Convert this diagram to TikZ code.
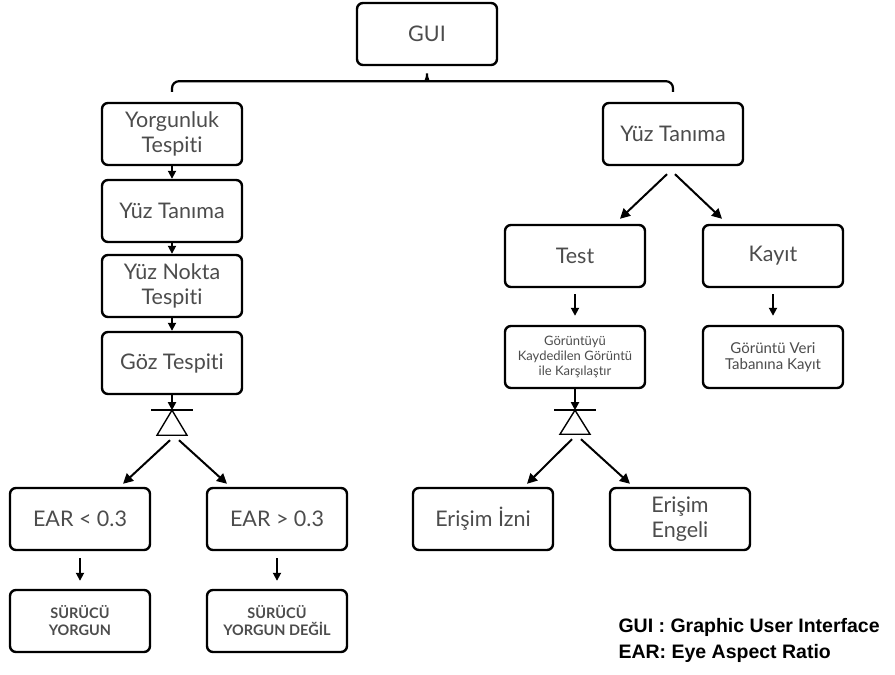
\documentclass[tikz,border=0pt]{standalone}
\usepackage{fontspec}
\setmainfont{Lato}[Ligatures=NoCommon]
\newfontfamily\legendfont{Liberation Sans}
\usepackage{tikz}
\usetikzlibrary{arrows.meta, calc}
\definecolor{boxtext}{rgb}{.3,.3,.3}
\tikzset{
    box/.style={draw, line width=2.4pt, rounded corners=6pt,
        minimum width=140pt, minimum height=62pt, align=center,
        text=boxtext, font={\fontsize{21.5}{25}\selectfont}},
    smallbox/.style={box, font={\fontsize{13}{15}\selectfont}},
    capsbox/.style={box, font={\fontsize{14.5}{17}\selectfont\bfseries}},
    arr/.style={line width=1.8pt, -{Triangle[length=8pt,width=8pt]}},
    bigarr/.style={line width=2pt, -{Triangle[length=10pt,width=10pt]}},
    brace/.style={line width=2.2pt, rounded corners=7pt},
    }

\begin{document}
\begin{tikzpicture}
    [x=1pt, y=-1pt]
    \useasboundingbox (0,0) rectangle (895,675);
    \node[box] (gui) at (427,34) {GUI};
    % left branch
    \node[box] (yt) at (172,134) {Yorgunluk\\Tespiti};
    \node[box] (yf) at (172,211) {Yüz Tanıma};
    \node[box] (yn) at (172,286) {Yüz Nokta\\Tespiti};
    \node[box] (gz) at (172,363) {Göz Tespiti};
    \node[box] (ear1) at (80,519) {EAR < 0.3};
    \node[box] (ear2) at (277,519) {EAR > 0.3};
    \node[capsbox] (sr1) at (80,621) {SÜRÜCÜ\\YORGUN};
    \node[capsbox] (sr2) at (277,621) {SÜRÜCÜ\\YORGUN DEĞİL};
    % right branch
    \node[box] (yr) at (673,134) {Yüz Tanıma};
    \node[box] (test) at (575,256) {Test};
    \node[box] (kayit) at (773,256) {Kayıt};
    \node[smallbox] (karsi) at (575,357) {Görüntüyü\\Kaydedilen Görüntü\\ile Karşılaştır};
    \node[box, font={\fontsize{15}{16}\selectfont}] (veri) at (773,357)
        {Görüntü Veri\\Tabanına Kayıt};
    \node[box] (izin) at (483,519) {Erişim İzni};
    \node[box] (engel) at (680,519) {Erişim\\Engeli};
    % brace
    \coordinate (tip) at ([yshift=-3pt]gui.south);
    \coordinate (bl) at ([yshift=10pt]yt.north);
    \coordinate (br) at ([yshift=10pt]yr.north);
    \draw[brace] (bl) |- ($(tip)+(-8,12)$)
        .. controls ($(tip)+(-2,12)$) and ($(tip)+(0,8)$) .. (tip)
        .. controls ($(tip)+(0,8)$) and ($(tip)+(2,12)$) .. ($(tip)+(8,12)$)
        -| (br);
    % left column
    \draw[arr] (yt.south) -- (yf.north);
    \draw[arr] (yf.south) -- (yn.north);
    \draw[arr] (yn.south) -- (gz.north);
    \coordinate (sp1) at ([yshift=-15pt]gz.south);
    \draw[arr] (gz.south) -- (sp1);
    \draw[line width=2pt] ([xshift=-21pt]sp1) -- ([xshift=21pt]sp1);
    \draw[line width=1.4pt] (sp1) -- ++(-15,25) -- ++(30,0) -- cycle;
    \draw[bigarr] ([shift={(-2,30)}]sp1) -- ([xshift=43pt,yshift=3pt]ear1.north);
    \draw[bigarr] ([shift={(7,30)}]sp1) -- ([xshift=-50pt,yshift=3pt]ear2.north);
    \draw[arr] ([yshift=-7pt]ear1.south) -- ([yshift=8pt]sr1.north);
    \draw[arr] ([yshift=-7pt]ear2.south) -- ([yshift=8pt]sr2.north);
    % right column
    \draw[bigarr] ([shift={(-6,8)}]yr.south) -- ([xshift=45pt,yshift=5pt]test.north);
    \draw[bigarr] ([shift={(2,8)}]yr.south) -- ([xshift=-51pt,yshift=5pt]kayit.north);
    \draw[arr] ([yshift=-6pt]test.south) -- ([yshift=9pt]karsi.north);
    \draw[arr] ([yshift=-6pt]kayit.south) -- ([yshift=9pt]veri.north);
    \coordinate (sp2) at ([yshift=-21pt]karsi.south);
    \draw[arr] (karsi.south) -- (sp2);
    \draw[line width=2pt] ([xshift=-21pt]sp2) -- ([xshift=21pt]sp2);
    \draw[line width=1.4pt] (sp2) -- ++(-15,24) -- ++(30,0) -- cycle;
    \draw[bigarr] ([shift={(-3,29)}]sp2) -- ([xshift=44pt,yshift=3pt]izin.north);
    \draw[bigarr] ([shift={(6,29)}]sp2) -- ([xshift=-50pt,yshift=3pt]engel.north);
    % legend
    \node[anchor=west, align=left, font={\legendfont\bfseries\fontsize{19.5}{26}\selectfont}]
        (legend) at (615,640) {GUI : Graphic User Interface\\EAR: Eye Aspect Ratio};
\end{tikzpicture}
\end{document}
